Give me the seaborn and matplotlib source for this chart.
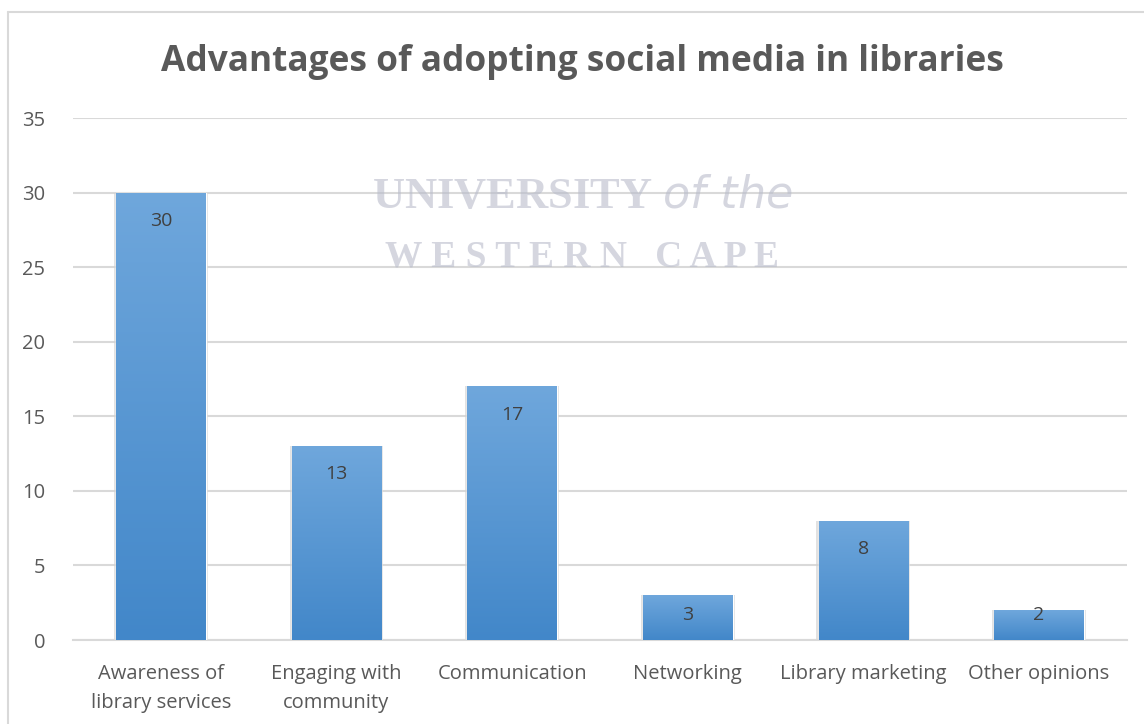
import numpy as np
import pandas as pd
import matplotlib
matplotlib.use("Agg")
import matplotlib.pyplot as plt
import seaborn as sns
from matplotlib.colors import LinearSegmentedColormap
from matplotlib.lines import Line2D

# data
categories = ["Awareness of\nlibrary services", "Engaging with\ncommunity", "Communication",
              "Networking", "Library marketing", "Other opinions"]
counts = [30, 13, 17, 3, 8, 2]
yticks = [0, 5, 10, 15, 20, 25, 30, 35]

df = pd.DataFrame({"category": categories, "count": counts})

sns.set_theme(style="white")
plt.rcParams['font.family'] = ['Open Sans', 'DejaVu Sans']

fig = plt.figure(figsize=(11.44, 7.24), dpi=100)
ax = fig.add_axes([0.0638, 0.116, 0.9212, 0.721])

sns.barplot(data=df, x="category", y="count", color="#5b9bd5", width=0.51,
            saturation=1, ax=ax, zorder=3)

# vertical gradient in each bar, like the excel fill
grad_cmap = LinearSegmentedColormap.from_list("bar", ["#4287c9", "#6fa7dc"])
grad = np.linspace(0, 1, 256).reshape(-1, 1)
for p in ax.patches:
    x0, y0 = p.get_x(), p.get_y()
    w, h = p.get_width(), p.get_height()
    # soft shadow
    sh = plt.Rectangle((x0 - 0.012, y0 - 0.25), w + 0.024, h + 0.25, color="#cfcfcf",
                       alpha=0.6, zorder=2, lw=0)
    ax.add_patch(sh)
    im = ax.imshow(grad, extent=[x0, x0 + w, y0, y0 + h], origin="lower",
                   cmap=grad_cmap, aspect="auto", zorder=4)
    im.set_clip_path(p)

for i, v in enumerate(counts):
    ax.text(i, max(v - 1.88, 1.65), str(v), ha="center", va="center",
            fontsize=14, color="#404040", zorder=6)

ax.set_xlim(-0.5, len(categories) - 0.5)
ax.set_ylim(0, 35)
ax.set_yticks(yticks)
ax.yaxis.grid(True, color="#d9d9d9", lw=1.5, zorder=0)
ax.set_axisbelow(True)
for s in ["top", "right", "left"]:
    ax.spines[s].set_visible(False)
ax.spines["bottom"].set_color("#d9d9d9")
ax.spines["bottom"].set_linewidth(1.5)
ax.tick_params(axis="both", length=0, labelsize=14.5, labelcolor="#595959")
ax.tick_params(axis="x", pad=17)
ax.tick_params(axis="y", pad=20)
for lbl in ax.get_xticklabels():
    lbl.set_linespacing(1.6)
ax.set_xlabel("")
ax.set_ylabel("")

fig.text(0.509, 0.914, "Advantages of adopting social media in libraries",
         ha="center", va="center", fontsize=25.4, fontweight="bold", color="#595959")

# faint watermark
fig.text(0.509, 0.728, "UNIVERSITY $\\it{of\\ the}$", ha="center", va="center", fontsize=32,
         family="Liberation Serif", fontweight="bold", color="#b9bccb", alpha=0.6, zorder=10)
fig.text(0.509, 0.645, "W E S T E R N   C A P E", ha="center", va="center", fontsize=27,
         family="Liberation Serif", fontweight="bold", color="#b9bccb", alpha=0.6, zorder=10)

# chart border (left and top visible)
fig.add_artist(Line2D([0.007, 0.007], [0.0, 0.983], color="#d9d9d9", lw=1.5,
                      transform=fig.transFigure))
fig.add_artist(Line2D([0.007, 1.0], [0.983, 0.983], color="#d9d9d9", lw=1.5,
                      transform=fig.transFigure))

fig.savefig("out.png", dpi=100, facecolor="white")
